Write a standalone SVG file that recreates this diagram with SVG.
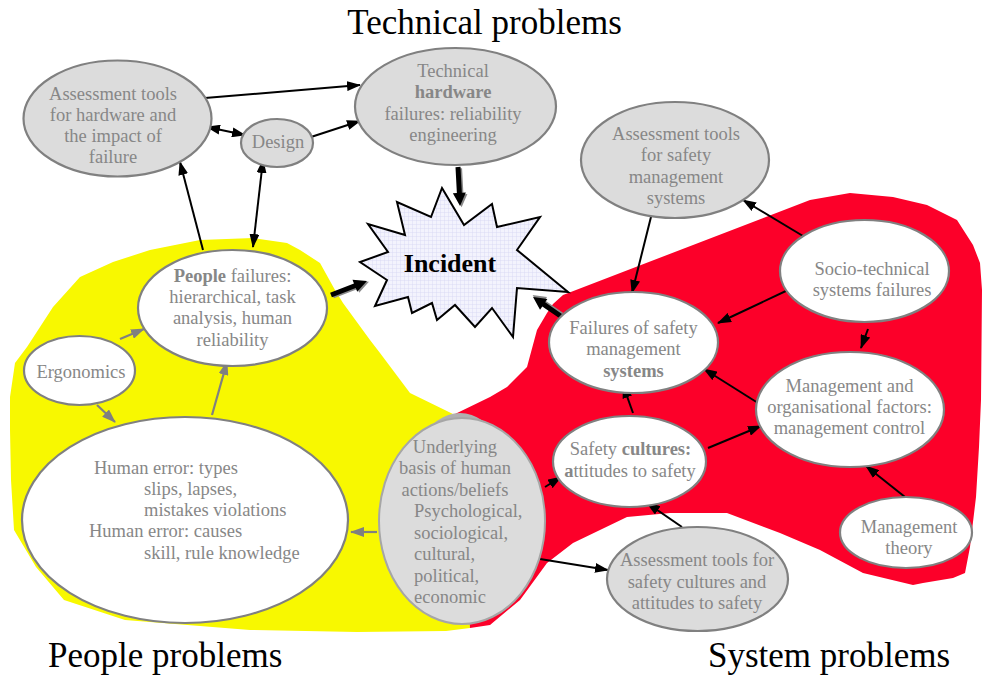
<svg xmlns="http://www.w3.org/2000/svg" width="984" height="677" viewBox="0 0 984 677">
<defs>
<style>
.t{font-family:"Liberation Serif","Times New Roman",serif;font-size:18.5px;fill:#878787;text-anchor:middle}
.ts{font-family:"Liberation Serif","Times New Roman",serif;font-size:18.5px;fill:#878787}
.b{font-weight:bold}
.title{font-family:"Liberation Serif","Times New Roman",serif;font-size:35px;fill:#000}
.wn{fill:#fff;stroke:#808080;stroke-width:2.2}
.gn{fill:#dcdcdc;stroke:#808080;stroke-width:2.2}
.c{fill:none;stroke:#000;stroke-width:2}
.cg{fill:none;stroke:#808080;stroke-width:2.2}
</style>
<marker id="ah" markerUnits="userSpaceOnUse" markerWidth="14" markerHeight="10" refX="13" refY="5" orient="auto-start-reverse" viewBox="0 0 14 10"><path d="M0,0 L14,5 L0,10 z" fill="#000"/></marker>
<marker id="ahg" markerUnits="userSpaceOnUse" markerWidth="14" markerHeight="10" refX="13" refY="5" orient="auto" viewBox="0 0 14 10"><path d="M0,0 L14,5 L0,10 z" fill="#808080"/></marker>
<pattern id="grid" width="4" height="4" patternUnits="userSpaceOnUse"><rect width="4" height="4" fill="#f3f3fd"/><path d="M0,0H4M0,0V4" stroke="#d6d6f2" stroke-width="0.8"/></pattern>
</defs>

<g id="regions">
<path id="people-region" d="M453,414 L410,393 L380,353 L370,340 L343,303 L335,290 L320,263 L300,250 L287,243 L253,238 L200,240 L150,250 L113,262 L80,277 L53,307 L27,347 L15,363 L10,397 L10,430 L11,480 L14,530 L36,567 L64,600 L125,620 L250,630 L357,632 L446,631 L470,628 Z" fill="#f8f800"/>
<path id="system-region" d="M455,414 L490,397 L507,387 L527,367 L537,330 L547,313 L553,304 L563,295 L810,200 L850,193 L893,197 L927,205 L957,220 L973,245 L980,263 L982,290 L981,400 L979,447 L976,497 L970,547 L965,573 L953,578 L923,583 L913,585 L863,573 L820,550 L780,533 L727,513 L670,513 L627,517 L573,543 L547,563 L520,600 L490,625 L470,628 Z" fill="#fc0029"/>
</g>

<g id="titles">
<text class="title" x="484.5" y="34" text-anchor="middle">Technical problems</text>
<text class="title" x="48" y="667">People problems</text>
<text class="title" x="708" y="667">System problems</text>
</g>

<g id="connectors">
<path class="c" d="M205,98 L360,85" marker-end="url(#ah)"/>
<path class="c" d="M311,137 L360,121" marker-end="url(#ah)"/>
<path class="c" d="M207,127 L245,135" marker-start="url(#ah)" marker-end="url(#ah)"/>
<path class="c" d="M203,250 L180,162" marker-end="url(#ah)"/>
<path class="c" d="M263,160 L253,247" marker-start="url(#ah)" marker-end="url(#ah)"/>
<path class="cg" d="M120,339 L144,329" marker-end="url(#ahg)"/>
<path class="cg" d="M97,405 L115,422" marker-end="url(#ahg)"/>
<path class="cg" d="M212,415 L227,362" marker-end="url(#ahg)"/>
<path class="cg" d="M377,532 L351,532" marker-end="url(#ahg)"/>
<path class="c" d="M545,487 L561,477" marker-end="url(#ah)"/>
<path class="c" d="M540,559 L608,570" marker-end="url(#ah)"/>
<path class="c" d="M682,527 L647,503" marker-end="url(#ah)"/>
<path class="c" d="M633,413 L623,385" marker-end="url(#ah)"/>
<path class="c" d="M708,448 L761,426" marker-end="url(#ah)"/>
<path class="c" d="M758,403 L704,369" marker-end="url(#ah)"/>
<path class="c" d="M905,497 L866,466" marker-end="url(#ah)"/>
<path class="c" d="M868,329 L861,348" marker-end="url(#ah)"/>
<path class="c" d="M788,290 L718,323" marker-end="url(#ah)"/>
<path class="c" d="M803,236 L743,200" marker-end="url(#ah)"/>
<path class="c" d="M652,213 L632,293" marker-end="url(#ah)"/>
<g id="block-arrows">
<g transform="translate(331,295) rotate(-21.25)">
<polygon points="0,-2.5 25.6,-2.5 25.6,-6.5 38.6,0 25.6,6.5 25.6,2.5 0,2.5" fill="#8a8a8a" transform="translate(1.5,1.5)"/>
<polygon points="0,-2.5 25.6,-2.5 25.6,-6.5 38.6,0 25.6,6.5 25.6,2.5 0,2.5" fill="#000"/>
</g>
<g transform="translate(458,167) rotate(87)">
<polygon points="0,-2.5 26,-2.5 26,-6.5 39,0 26,6.5 26,2.5 0,2.5" fill="#8a8a8a" transform="translate(1.5,-1.5)"/>
<polygon points="0,-2.5 26,-2.5 26,-6.5 39,0 26,6.5 26,2.5 0,2.5" fill="#000"/>
</g>
<g transform="translate(562,317) rotate(-145.4)">
<polygon points="0,-2.5 22.2,-2.5 22.2,-6.5 35.2,0 22.2,6.5 22.2,2.5 0,2.5" fill="#8a8a8a" transform="translate(1.5,1.5)"/>
<polygon points="0,-2.5 22.2,-2.5 22.2,-6.5 35.2,0 22.2,6.5 22.2,2.5 0,2.5" fill="#000"/>
</g>
</g>
</g>

<g id="incident">
<polygon points="442,188 464,225 492,204 497,227 540,217 517,250 568,292 517,288 513,337 492,308 475,327 455,305 437,320 432,303 412,313 408,297 375,306 387,280 360,262 388,252 368,224 405,235 397,202 431,217" fill="url(#grid)" stroke="#000" stroke-width="2" stroke-linejoin="miter"/>
<text x="450" y="272" text-anchor="middle" style="font-family:'Liberation Serif','Times New Roman',serif;font-size:26px;font-weight:bold;fill:#000">Incident</text>
</g>

<g id="assess-hardware">
<ellipse class="gn" cx="117.5" cy="118.5" rx="94" ry="58"/>
<text class="t" x="113" y="99.5">Assessment tools</text>
<text class="t" x="113" y="120.5">for hardware and</text>
<text class="t" x="113" y="141.5">the impact of</text>
<text class="t" x="113" y="162.5">failure</text>
</g>

<g id="design">
<ellipse class="gn" cx="277" cy="143" rx="36" ry="24"/>
<text class="t" x="278" y="148">Design</text>
</g>

<g id="technical-hardware">
<ellipse class="gn" cx="455.5" cy="106.5" rx="100.5" ry="58.5"/>
<text class="t" x="453" y="77">Technical</text>
<text class="t b" x="453" y="98.3">hardware</text>
<text class="t" x="453" y="119.6">failures: reliability</text>
<text class="t" x="453" y="141">engineering</text>
</g>

<g id="people-failures">
<ellipse class="wn" cx="232.5" cy="308" rx="94.5" ry="58"/>
<text class="t" x="232.5" y="281.7"><tspan class="b">People</tspan> failures:</text>
<text class="t" x="232.5" y="303">hierarchical, task</text>
<text class="t" x="232.5" y="324.3">analysis, human</text>
<text class="t" x="232.5" y="345.6">reliability</text>
</g>

<g id="ergonomics">
<ellipse class="wn" cx="79.5" cy="370.5" rx="55.5" ry="34.5"/>
<text class="t" x="81" y="377.5">Ergonomics</text>
</g>

<g id="human-error">
<ellipse class="wn" cx="185" cy="520" rx="163" ry="103"/>
<text class="ts" x="94" y="473.5">Human error: types</text>
<text class="ts" x="144" y="494.8">slips, lapses,</text>
<text class="ts" x="144" y="516.1">mistakes violations</text>
<text class="ts" x="89" y="537.4">Human error: causes</text>
<text class="ts" x="144" y="558.7">skill, rule knowledge</text>
</g>

<g id="underlying-basis">
<ellipse cx="460" cy="516" rx="60" ry="103" fill="#b0b0b0"/>
<ellipse cx="462" cy="521" rx="83" ry="103" fill="#dcdcdc" stroke="#a6a6a6" stroke-width="2"/>
<text class="t" x="455" y="452.7">Underlying</text>
<text class="t" x="455" y="474.2">basis of human</text>
<text class="t" x="455" y="495.7">actions/beliefs</text>
<text class="ts" x="414" y="517.2">Psychological,</text>
<text class="ts" x="414" y="538.7">sociological,</text>
<text class="ts" x="414" y="560.2">cultural,</text>
<text class="ts" x="414" y="581.7">political,</text>
<text class="ts" x="414" y="603.2">economic</text>
</g>

<g id="assess-sms">
<ellipse class="gn" cx="675" cy="160" rx="94" ry="58"/>
<text class="t" x="676" y="140">Assessment tools</text>
<text class="t" x="676" y="161.3">for safety</text>
<text class="t" x="676" y="182.6">management</text>
<text class="t" x="676" y="204">systems</text>
</g>

<g id="socio-technical">
<ellipse class="wn" cx="864.5" cy="271" rx="84.5" ry="51"/>
<text class="t" x="872" y="275">Socio-technical</text>
<text class="t" x="872" y="296.3">systems failures</text>
</g>

<g id="sms-failures">
<ellipse class="wn" cx="633.5" cy="342.5" rx="84.5" ry="50.5"/>
<text class="t" x="633.5" y="333.5">Failures of safety</text>
<text class="t" x="633.5" y="355">management</text>
<text class="t b" x="633.5" y="376.5">systems</text>
</g>

<g id="safety-cultures">
<ellipse class="wn" cx="629.5" cy="461.5" rx="76.5" ry="45.5"/>
<text class="t" x="630.5" y="455">Safety <tspan class="b">cultures:</tspan></text>
<text class="t" x="630" y="476.5"><tspan class="b">a</tspan>ttitudes to safety</text>
</g>

<g id="management-factors">
<ellipse class="wn" cx="850" cy="409.5" rx="94" ry="57.5"/>
<text class="t" x="849.5" y="391.7">Management and</text>
<text class="t" x="849.5" y="413">organisational factors:</text>
<text class="t" x="849.5" y="434.3">management control</text>
</g>

<g id="management-theory">
<ellipse class="wn" cx="906" cy="532.5" rx="66" ry="35.5"/>
<text class="t" x="909" y="532.5">Management</text>
<text class="t" x="909" y="553.8">theory</text>
</g>

<g id="assess-cultures">
<ellipse class="gn" cx="697.5" cy="579" rx="90.5" ry="52"/>
<text class="t" x="697" y="566">Assessment tools for</text>
<text class="t" x="697" y="587.5">safety cultures and</text>
<text class="t" x="697" y="609">attitudes to safety</text>
</g>
</svg>
